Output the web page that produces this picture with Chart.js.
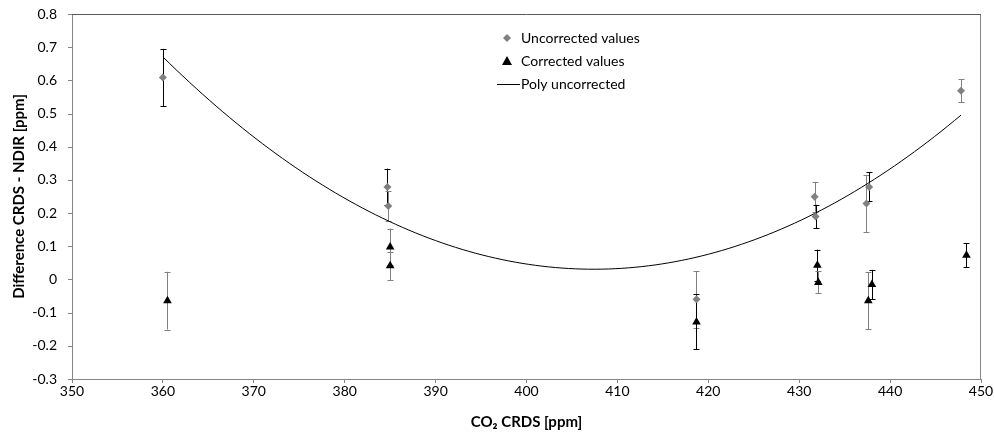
<!DOCTYPE html>
<html lang="en">
<head>
    <meta charset="UTF-8">
    <title>CRDS - NDIR difference</title>
    <script src="https://cdn.jsdelivr.net/npm/chart.js"></script>
    <style>
        html, body { margin: 0; padding: 0; background: #fff; }
        #wrap { position: relative; width: 994px; height: 432px; }
    </style>
</head>
<body>
<div id="wrap"><canvas id="chart"></canvas></div>
<script>
    // uncorrected values (grey diamonds)
    const uncX = [360.0, 384.7, 384.8, 418.7, 431.7, 431.8, 437.4, 437.7, 447.8];
    const uncY = [0.609, 0.279, 0.221, -0.060, 0.249, 0.190, 0.229, 0.279, 0.569];
    const uncErr = [0.086, 0.055, 0.045, 0.085, 0.045, 0.035, 0.086, 0.044, 0.035];

    // corrected values (black triangles)
    const corX = [360.5, 385.0, 385.0, 418.7, 432.0, 432.1, 437.6, 438.0, 448.4];
    const corY = [-0.064, 0.098, 0.041, -0.128, 0.043, -0.009, -0.064, -0.015, 0.073];
    const corErr = [0.087, 0.055, 0.043, 0.083, 0.047, 0.033, 0.086, 0.044, 0.036];

    // error bar colours per point
    const BLK = '#000000', GRY = '#808080';
    const uncErrColor = [BLK, BLK, GRY, GRY, GRY, BLK, GRY, BLK, GRY];
    const corErrColor = [GRY, GRY, GRY, BLK, BLK, GRY, GRY, BLK, BLK];

    const legendLabels = ['Uncorrected values', 'Corrected values', 'Poly uncorrected'];

    // 2nd order polynomial trendline (least squares on uncorrected values)
    function polyfit2(xs, ys) {
        let s = [0, 0, 0, 0, 0], t = [0, 0, 0];
        xs.forEach((x, i) => {
            const u = x - 400;
            for (let k = 0; k < 5; k++) s[k] += Math.pow(u, k);
            for (let k = 0; k < 3; k++) t[k] += ys[i] * Math.pow(u, k);
        });
        const A = [[s[0], s[1], s[2], t[0]], [s[1], s[2], s[3], t[1]], [s[2], s[3], s[4], t[2]]];
        for (let i = 0; i < 3; i++) {
            for (let j = i + 1; j < 3; j++) {
                const f = A[j][i] / A[i][i];
                for (let k = i; k < 4; k++) A[j][k] -= f * A[i][k];
            }
        }
        const c = [0, 0, 0];
        for (let i = 2; i >= 0; i--) {
            let v = A[i][3];
            for (let k = i + 1; k < 3; k++) v -= A[i][k] * c[k];
            c[i] = v / A[i][i];
        }
        return x => c[0] + c[1] * (x - 400) + c[2] * (x - 400) * (x - 400);
    }
    const fit = polyfit2(uncX, uncY);
    const xMin = Math.min(...uncX), xMax = Math.max(...uncX);
    const trend = [];
    for (let i = 0; i <= 120; i++) {
        const x = xMin + (xMax - xMin) * i / 120;
        trend.push({ x: x, y: fit(x) });
    }

    const FONT = "Lato, 'Open Sans', sans-serif";

    // error bars + box border + y tick marks + legend
    const extras = {
        id: 'extras',
        beforeDatasetsDraw(chart) {
            const ctx = chart.ctx, xs = chart.scales.x, ys = chart.scales.y;
            const bars = (X, Y, E, C) => {
                X.forEach((x, i) => {
                    const px = Math.round(xs.getPixelForValue(x)) + 0.5;
                    const top = ys.getPixelForValue(Y[i] + E[i]);
                    const bot = ys.getPixelForValue(Y[i] - E[i]);
                    ctx.strokeStyle = C[i];
                    ctx.lineWidth = 1;
                    ctx.beginPath();
                    ctx.moveTo(px, top); ctx.lineTo(px, bot);
                    ctx.moveTo(px - 3, Math.round(top) + 0.5); ctx.lineTo(px + 3, Math.round(top) + 0.5);
                    ctx.moveTo(px - 3, Math.round(bot) + 0.5); ctx.lineTo(px + 3, Math.round(bot) + 0.5);
                    ctx.stroke();
                });
            };
            ctx.save();
            bars(uncX, uncY, uncErr, uncErrColor);
            bars(corX, corY, corErr, corErrColor);
            ctx.restore();
        },
        afterDraw(chart) {
            const ctx = chart.ctx, a = chart.chartArea, ys = chart.scales.y;
            ctx.save();
            ctx.lineWidth = 1;
            ctx.strokeStyle = '#868686';
            ctx.beginPath();
            ys.ticks.forEach(t => {
                const py = Math.round(ys.getPixelForValue(t.value)) + 0.5;
                ctx.moveTo(a.left - 4, py); ctx.lineTo(a.left, py);
            });
            ctx.moveTo(a.right - 0.5, a.top); ctx.lineTo(a.right - 0.5, a.bottom);
            ctx.stroke();
            ctx.strokeStyle = '#595959';
            ctx.beginPath();
            ctx.moveTo(a.left, Math.round(a.top) + 0.5); ctx.lineTo(a.right, Math.round(a.top) + 0.5);
            ctx.stroke();

            // legend
            const lx = 507, ly = [38, 61, 84];
            ctx.fillStyle = '#808080';
            ctx.beginPath();
            ctx.moveTo(lx, ly[0] - 4); ctx.lineTo(lx + 4, ly[0]); ctx.lineTo(lx, ly[0] + 4); ctx.lineTo(lx - 4, ly[0]);
            ctx.closePath(); ctx.fill();
            ctx.fillStyle = '#000';
            ctx.beginPath();
            ctx.moveTo(lx, ly[1] - 5); ctx.lineTo(lx + 5, ly[1] + 4); ctx.lineTo(lx - 5, ly[1] + 4);
            ctx.closePath(); ctx.fill();
            ctx.strokeStyle = '#000';
            ctx.beginPath();
            ctx.moveTo(497, ly[2] + 0.5); ctx.lineTo(520, ly[2] + 0.5);
            ctx.stroke();
            ctx.font = '14px ' + FONT;
            ctx.textBaseline = 'middle';
            ctx.textAlign = 'left';
            legendLabels.forEach((t, i) => ctx.fillText(t, 521, ly[i]));
            ctx.restore();
        }
    };

    new Chart(document.getElementById('chart'), {
        type: 'scatter',
        data: {
            datasets: [
                {
                    label: legendLabels[2], type: 'line', data: trend,
                    borderColor: '#000', borderWidth: 1, pointRadius: 0, fill: false, order: 3
                },
                {
                    label: legendLabels[0], data: uncX.map((x, i) => ({ x: x, y: uncY[i] })),
                    pointStyle: 'rectRot', pointRadius: 4, backgroundColor: '#808080', borderColor: '#808080', borderWidth: 0, order: 2
                },
                {
                    label: legendLabels[1], data: corX.map((x, i) => ({ x: x, y: corY[i] })),
                    pointStyle: 'triangle', pointRadius: 5, backgroundColor: '#000', borderColor: '#000', borderWidth: 0, order: 1
                }
            ]
        },
        options: {
            responsive: true,
            maintainAspectRatio: false,
            animation: false,
            layout: { padding: { left: 0, right: 13, top: 14, bottom: 0 } },
            plugins: { legend: { display: false }, tooltip: { enabled: false } },
            scales: {
                x: {
                    type: 'linear', min: 350, max: 450,
                    ticks: { stepSize: 10, color: '#000', font: { family: FONT, size: 14 }, padding: 0, maxRotation: 0 },
                    grid: { drawOnChartArea: false, tickLength: 4, color: '#868686' },
                    border: { color: '#868686' },
                    title: { display: true, text: 'CO₂ CRDS [ppm]', color: '#000', font: { family: FONT, size: 15, weight: 'bold' }, padding: { top: 0, bottom: 1 } },
                    afterFit: s => { s.height = 53; }
                },
                y: {
                    min: -0.3, max: 0.8,
                    ticks: { stepSize: 0.1, color: '#000', font: { family: FONT, size: 14 }, padding: 0,
                        callback: v => { const r = Math.round(v * 10) / 10; return r === 0 ? '0' : String(r); } },
                    grid: { drawOnChartArea: false, tickLength: 15, tickColor: 'rgba(0,0,0,0)', color: '#868686' },
                    border: { color: '#868686' },
                    title: { display: true, text: 'Difference CRDS - NDIR [ppm]', color: '#000', font: { family: FONT, size: 15, weight: 'bold' }, padding: { top: 10, bottom: 0 } },
                    afterFit: s => { s.width = 72; }
                }
            }
        },
        plugins: [extras]
    });
</script>
</body>
</html>
